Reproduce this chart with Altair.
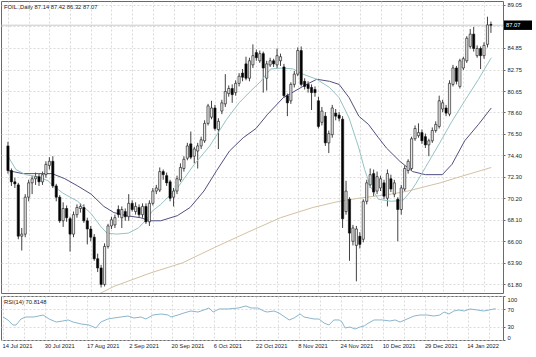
import json
import altair as alt
import pandas as pd

# ---------------- data ----------------
symbol = "FOIL.,Daily"
bar_open = [75.3, 72.9, 71.8, 71.5, 66.5, 66.7, 70.3, 71.7, 72.1, 72.3,
            71.8, 72.5, 73.4, 73.8, 71.4, 70.3, 68.0, 69.2, 68.2, 66.7,
            68.6, 69.2, 69.3, 68.0, 67.2, 66.4, 64.3, 63.4, 61.8, 65.5,
            67.5, 67.6, 69.1, 68.3, 68.9, 68.4, 69.7, 68.9, 69.3, 68.6,
            69.4, 67.9, 69.7, 70.9, 71.0, 72.8, 72.4, 71.8, 70.3, 70.9,
            72.0, 73.1, 74.1, 75.5, 74.3, 74.8, 75.3, 75.8, 77.5, 78.1,
            79.0, 76.9, 78.7, 79.4, 80.4, 80.9, 80.5, 81.4, 82.4, 83.3,
            81.9, 83.2, 84.4, 83.6, 84.3, 81.9, 83.2, 83.6, 83.2, 83.6,
            83.0, 80.2, 79.7, 81.3, 82.3, 84.6, 81.6, 81.3, 81.0, 80.8,
            79.7, 77.6, 78.2, 75.6, 76.4, 78.5, 78.3, 77.9, 68.9, 70.1,
            66.0, 65.6, 66.5, 66.2, 69.9, 71.5, 72.6, 70.9, 71.2, 71.7,
            70.2, 72.1, 70.6, 70.1, 69.1, 71.1, 72.9, 73.1, 76.0, 76.3,
            76.6, 76.2, 75.4, 75.8, 76.8, 77.2, 78.9, 79.0, 78.4, 81.3,
            82.9, 81.1, 82.9, 83.6, 85.0, 86.2, 84.1, 84.8, 84.1, 85.2,
            87.14]
bar_high = [75.7, 73.1, 72.2, 71.7, 67.3, 70.6, 72.0, 72.4, 72.7, 72.6,
            72.8, 73.8, 74.2, 74.3, 71.6, 70.5, 69.8, 69.5, 68.4, 68.9,
            69.6, 69.7, 69.6, 68.3, 67.5, 66.7, 64.8, 63.7, 65.8, 67.7,
            68.4, 68.6, 69.5, 69.4, 69.2, 70.6, 70.0, 69.8, 69.6, 69.7,
            69.7, 70.0, 71.2, 71.5, 73.2, 73.0, 72.7, 72.0, 71.2, 72.4,
            73.6, 74.3, 75.6, 76.7, 75.2, 75.6, 76.2, 77.8, 79.4, 79.7,
            79.3, 78.0, 79.8, 82.3, 81.2, 81.3, 81.7, 82.4, 82.8, 84.0,
            83.9, 85.2, 84.7, 84.6, 84.5, 83.6, 83.9, 83.8, 84.8, 84.3,
            83.3, 80.4, 81.5, 82.6, 84.9, 85.0, 81.9, 81.6, 81.3, 81.1,
            80.1, 79.1, 78.6, 76.8, 79.3, 78.9, 78.6, 78.2, 71.9, 70.3,
            67.6, 67.5, 66.9, 70.1, 72.0, 73.1, 73.0, 72.8, 72.4, 72.0,
            73.0, 72.5, 72.0, 70.3, 71.5, 73.4, 74.0, 76.2, 77.3, 77.5,
            76.9, 76.5, 76.0, 77.1, 77.7, 80.2, 79.8, 79.3, 81.7, 83.2,
            83.1, 83.8, 84.0, 86.0, 86.7, 86.9, 85.1, 85.0, 85.4, 87.9,
            87.42]
bar_low = [72.6, 71.4, 71.2, 66.2, 65.1, 66.4, 69.9, 70.6, 71.5, 71.4,
           71.5, 72.2, 73.0, 71.2, 69.9, 67.8, 67.4, 67.9, 65.0, 66.4,
           68.3, 68.8, 67.8, 65.7, 66.0, 64.1, 63.0, 61.5, 61.6, 65.3,
           67.2, 67.3, 68.3, 67.3, 68.0, 68.0, 68.9, 68.6, 68.3, 68.3,
           67.7, 67.5, 69.5, 70.6, 70.8, 72.0, 71.4, 69.9, 69.4, 70.6,
           71.8, 72.8, 73.9, 74.0, 73.6, 73.1, 75.0, 75.6, 77.3, 77.9,
           76.8, 75.0, 78.4, 79.1, 80.1, 79.5, 80.2, 81.1, 81.6, 81.7,
           81.6, 82.9, 83.6, 83.4, 80.5, 80.7, 83.0, 83.0, 82.9, 83.1,
           80.0, 78.2, 79.4, 81.0, 82.1, 81.1, 80.8, 80.5, 78.8, 80.1,
           77.0, 77.3, 75.3, 74.6, 76.1, 77.8, 77.7, 67.3, 68.6, 64.1,
           65.6, 62.1, 65.3, 65.9, 69.6, 71.2, 70.4, 70.6, 70.9, 70.1,
           69.4, 70.8, 70.3, 66.0, 68.6, 70.9, 72.6, 72.9, 75.8, 76.1,
           75.5, 75.1, 74.3, 75.6, 76.6, 77.0, 78.6, 78.2, 78.2, 81.1,
           81.3, 80.9, 82.7, 83.4, 84.8, 84.5, 83.9, 82.8, 83.8, 84.9,
           86.32]
bar_close = [72.9, 71.8, 71.6, 66.5, 66.7, 70.3, 71.7, 72.1, 72.3, 71.8,
             72.5, 73.5, 73.8, 71.4, 70.3, 68.0, 69.2, 68.3, 66.7, 68.6,
             69.3, 69.4, 68.0, 67.2, 66.4, 64.3, 63.4, 61.8, 65.5, 67.5,
             68.1, 68.3, 68.6, 69.1, 68.4, 69.7, 69.1, 69.4, 68.6, 69.4,
             67.9, 69.7, 70.9, 71.2, 72.8, 72.5, 71.7, 70.2, 70.9, 72.1,
             73.2, 74.0, 75.3, 74.2, 75.0, 75.3, 75.9, 77.5, 79.2, 79.0,
             77.0, 77.7, 79.5, 80.6, 80.9, 80.3, 81.4, 82.1, 82.0, 81.9,
             83.6, 84.1, 83.9, 84.3, 82.9, 83.3, 83.6, 83.3, 84.1, 84.0,
             80.2, 79.5, 81.3, 82.3, 84.6, 81.3, 81.1, 80.9, 80.5, 80.5,
             77.2, 78.7, 75.6, 76.5, 79.0, 78.2, 78.0, 68.2, 70.9, 66.8,
             67.3, 67.2, 65.7, 69.9, 71.7, 72.5, 70.8, 72.3, 72.1, 70.4,
             72.6, 71.1, 71.7, 69.1, 71.2, 73.1, 73.8, 76.0, 77.0, 76.6,
             75.8, 75.4, 75.8, 76.8, 77.4, 79.7, 79.5, 78.5, 81.4, 82.9,
             81.6, 83.6, 83.8, 85.8, 86.2, 84.8, 84.8, 84.1, 85.1, 87.1,
             87.07]

fast_ma_pos = [0.0, 2.3, 5.1, 8.8, 11.6, 13.6, 15.9, 20.2, 24.1, 27.0, 28.7,
               31.5, 34.9, 37.8, 39.8, 42.0, 44.3, 49.1, 54.0, 58.5, 63.4,
               67.0, 70.5, 73.3, 76.1, 79.8, 82.7, 85.5, 89.5, 93.2, 96.0,
               98.9, 101.7, 103.4, 105.1, 107.4, 111.1, 114.5, 116.8, 118.2,
               121.0, 125.0, 128.7, 132.4, 136.4, 140.1]
fast_ma_val = [74.3, 73.0, 72.5, 72.3, 71.9, 71.3, 70.7, 69.9, 68.7, 67.4, 66.8,
               66.7, 66.8, 67.3, 68.0, 69.0, 69.6, 71.2, 73.5, 75.3, 77.9,
               79.5, 80.7, 81.6, 82.8, 82.9, 82.8, 82.3, 81.8, 81.0, 80.0,
               78.0, 75.1, 73.0, 71.3, 70.1, 69.9, 70.0, 70.9, 71.6,
               73.2, 75.5, 77.7, 79.7, 81.8, 83.9]
slow_ma_pos = [0.0, 4.3, 8.8, 12.8, 16.5, 20.2, 24.1, 27.8, 30.7, 34.4, 38.4,
               41.2, 44.3, 49.1, 52.8, 56.8, 60.5, 64.2, 68.2, 71.9, 75.3,
               79.8, 85.5, 89.5, 93.2, 96.0, 98.9, 101.7, 104.5, 107.4, 109.7,
               113.6, 117.3, 121.0, 125.9, 128.7, 132.4, 136.4, 140.1]
slow_ma_val = [72.9, 72.6, 72.6, 72.6, 72.1, 71.4, 70.6, 69.4, 68.8, 68.5, 68.3,
               68.0, 68.0, 68.5, 69.3, 70.9, 72.9, 74.8, 76.1, 77.0, 78.4,
               80.0, 81.1, 81.8, 81.6, 81.3, 80.0, 78.2, 77.4, 76.1, 75.1,
               73.8, 72.8, 72.5, 72.5, 73.5, 75.8, 77.4, 79.0]
long_ma_pos = [26.0, 30.7, 41.2, 50.6, 59.9, 69.6, 79.0, 88.4, 96.0, 101.7,
               111.1, 115.9, 125.3, 130.1, 140.1]
long_ma_val = [60.8, 61.6, 62.9, 63.9, 65.4, 66.9, 68.3, 69.3, 69.9, 70.2,
               70.6, 70.9, 71.7, 72.2, 73.2]
rsi_pos = [0.0, 1.4, 2.8, 3.7, 5.1, 6.5, 8.8, 11.4, 13.1, 15.1, 17.0, 18.5,
           19.9, 22.2, 24.4, 26.4, 27.8, 29.8, 31.5, 33.5, 35.5, 37.2, 39.2,
           40.6, 42.6, 44.9, 46.9, 47.7, 49.7, 51.4, 53.4, 55.4, 57.1, 58.5,
           59.7, 61.4, 63.9, 66.8, 69.0, 70.5, 72.4, 74.1, 75.0, 77.0, 78.4,
           81.3, 82.7, 84.4, 85.5, 88.4, 89.8, 91.2, 92.6, 94.0, 95.5, 96.3,
           97.2, 98.6, 100.0, 101.4, 102.6, 103.4, 105.4, 107.7, 109.9, 111.4,
           112.8, 114.8, 116.8, 118.5, 120.5, 122.4, 124.1, 125.3, 126.7,
           128.1, 129.5, 131.0, 132.7, 134.7, 136.6, 138.1, 139.5, 140.0]
rsi_val = [52.3, 45.5, 34.1, 34.1, 47.7, 52.3, 52.3, 56.8, 47.7, 40.9, 43.2, 45.5,
           40.9, 36.4, 34.1, 27.3, 40.9, 47.7, 50.0, 52.3, 54.5, 50.0, 52.3,
           47.7, 56.8, 59.1, 56.8, 52.3, 56.8, 61.4, 65.9, 63.6, 68.2, 72.7,
           63.6, 70.5, 70.5, 72.7, 77.3, 72.7, 72.7, 65.9, 63.6, 65.9, 61.4,
           45.5, 50.0, 59.1, 52.3, 47.7, 47.7, 38.6, 34.1, 45.5, 45.5, 40.9,
           27.3, 29.5, 25.0, 29.5, 31.8, 36.4, 45.5, 45.5, 43.2, 45.5,
           40.9, 47.7, 54.5, 56.8, 56.8, 54.5, 56.8, 63.6, 59.1,
           65.9, 68.2, 65.9, 70.5, 68.2, 65.9, 68.2, 70.5, 70.81]
rsi_text = "RSI(14) 70.8148"
date_labels = ["14 Jul 2021", "30 Jul 2021", "17 Aug 2021", "2 Sep 2021",
               "20 Sep 2021", "6 Oct 2021", "22 Oct 2021", "8 Nov 2021",
               "24 Nov 2021", "10 Dec 2021", "29 Dec 2021", "14 Jan 2022"]
price_ticks = [61.80, 63.90, 66.00, 68.10, 70.20, 72.30, 74.40, 76.50, 78.60,
               80.65, 82.75, 84.85, 86.95, 89.05]
rsi_ticks = [0, 30, 70, 100]

# ---------------- layout / style ----------------
W, H_PRICE, H_RSI = 502, 292, 44
FONT = "Liberation Sans"
FS = 5.8
GRID = "#d2d2d2"
DASH = [2, 2]
n = len(bar_open)
grid_bars = list(range(0, n, 6))
last_close = bar_close[-1]

candles = pd.DataFrame({"i": list(range(n)), "open": bar_open, "high": bar_high,
                        "low": bar_low, "close": bar_close})
fast_df = pd.DataFrame({"i": fast_ma_pos, "v": fast_ma_val})
slow_df = pd.DataFrame({"i": slow_ma_pos, "v": slow_ma_val})
long_df = pd.DataFrame({"i": long_ma_pos, "v": long_ma_val})
rsi_df = pd.DataFrame({"i": rsi_pos, "v": rsi_val})

x_scale = alt.Scale(domain=[-0.57, 142.05], nice=False, zero=False)
p_scale = alt.Scale(domain=[60.96, 89.43], nice=False, zero=False)
r_scale = alt.Scale(domain=[0, 100], nice=False, zero=False)

x_axis_top = alt.Axis(values=grid_bars, labels=False, ticks=False, domain=False,
                      grid=True, gridColor=GRID, gridDash=DASH, gridWidth=0.8,
                      title=None)
labels_js = json.dumps(date_labels)
x_axis_bottom = alt.Axis(values=grid_bars, ticks=False, domain=False, grid=True,
                         gridColor=GRID, gridDash=DASH, gridWidth=0.8, title=None,
                         labelExpr=f"datum.value % 12 == 0 ? {labels_js}[datum.value / 12] : ''",
                         labelAlign="left", labelBaseline="top", labelPadding=2,
                         labelOffset=-1, labelFont=FONT, labelFontSize=FS,
                         labelColor="#222", labelOverlap=False, labelFlush=False,
                         labelBound=False)
p_axis = alt.Axis(orient="right", values=price_ticks, title=None, domain=False,
                  tickSize=2, tickColor="#666",
                  labelExpr="datum.value == 86.95 ? '' : format(datum.value, '.2f')",
                  labelFont=FONT, labelFontSize=FS, labelColor="#222", labelPadding=2,
                  labelOverlap=False, labelFlush=False, grid=True, gridColor=GRID,
                  gridDash=DASH, gridWidth=0.8)
r_axis = alt.Axis(orient="right", values=rsi_ticks, title=None, domain=False,
                  tickSize=2, tickColor="#666", labelFont=FONT, labelFontSize=FS,
                  labelColor="#222", labelPadding=2, labelOverlap=False,
                  labelFlush=True, grid=True, gridColor=GRID, gridDash=DASH,
                  gridWidth=0.8)

xp = alt.X("i:Q", scale=x_scale, axis=x_axis_top)

wicks = alt.Chart(candles).mark_rule(color="#111", strokeWidth=0.8).encode(
    x=xp, y=alt.Y("low:Q", scale=p_scale, axis=p_axis), y2="high:Q")
bodies = alt.Chart(candles).mark_bar(size=2.2, stroke="#111", strokeWidth=0.6).encode(
    x=xp, y=alt.Y("open:Q", scale=p_scale, axis=p_axis), y2="close:Q",
    fill=alt.condition("datum.close >= datum.open", alt.value("#e6e6e6"), alt.value("#000")))


def ma_line(df, color):
    return alt.Chart(df).mark_line(color=color, strokeWidth=1, clip=True).encode(
        x=xp, y=alt.Y("v:Q", scale=p_scale, axis=p_axis))


bid_line = alt.Chart(pd.DataFrame({"p": [last_close]})).mark_rule(
    color="#bcbcbc", strokeWidth=0.8).encode(y=alt.Y("p:Q", scale=p_scale, axis=p_axis))

price_box = alt.Chart(pd.DataFrame({"p": [last_close]})).mark_rect(color="#000").encode(
    x=alt.value(503), x2=alt.value(531),
    y=alt.Y("top:Q", scale=p_scale, axis=p_axis), y2="bot:Q"
).transform_calculate(top="datum.p + 0.46", bot="datum.p - 0.46")
price_txt = alt.Chart(pd.DataFrame({"p": [last_close]})).mark_text(
    align="left", baseline="middle", font=FONT, fontSize=FS, color="#fff").encode(
    x=alt.value(505), y=alt.Y("p:Q", scale=p_scale, axis=p_axis),
    text=alt.Text("p:Q", format=".2f"))

title_str = f"{symbol}  {bar_open[-1]:.2f} {bar_high[-1]:.2f} {bar_low[-1]:.2f} {bar_close[-1]:.2f}"
title_txt = alt.Chart(pd.DataFrame({"t": [title_str]})).mark_text(
    align="left", baseline="middle", font=FONT, fontSize=FS, color="#222").encode(
    x=alt.value(3), y=alt.value(6), text="t:N")

price = alt.layer(
    bid_line, wicks,
    ma_line(long_df, "#d3c2a2"),
    ma_line(slow_df, "#505080"),
    ma_line(fast_df, "#95c3c4"),
    bodies, price_box, price_txt, title_txt
).properties(width=W, height=H_PRICE)

xr = alt.X("i:Q", scale=x_scale, axis=x_axis_bottom)
rsi_line = alt.Chart(rsi_df).mark_line(color="#8ab6cd", strokeWidth=1).encode(
    x=xr, y=alt.Y("v:Q", scale=r_scale, axis=r_axis))
rsi_label = alt.Chart(pd.DataFrame({"t": [rsi_text]})).mark_text(
    align="left", baseline="middle", font=FONT, fontSize=FS, color="#222").encode(
    x=alt.value(3), y=alt.value(6), text="t:N")
rsi = alt.layer(rsi_line, rsi_label).properties(width=W, height=H_RSI)

chart = alt.vconcat(price, rsi, spacing=1).resolve_scale(
    x="independent", y="independent"
).properties(
    padding={"left": 0, "top": 0, "right": 0, "bottom": 0}
).configure(background="#ffffff").configure_view(stroke="#6a6a6a", strokeWidth=1)

chart.save("out.html", embed_options={"renderer": "svg", "actions": False})
